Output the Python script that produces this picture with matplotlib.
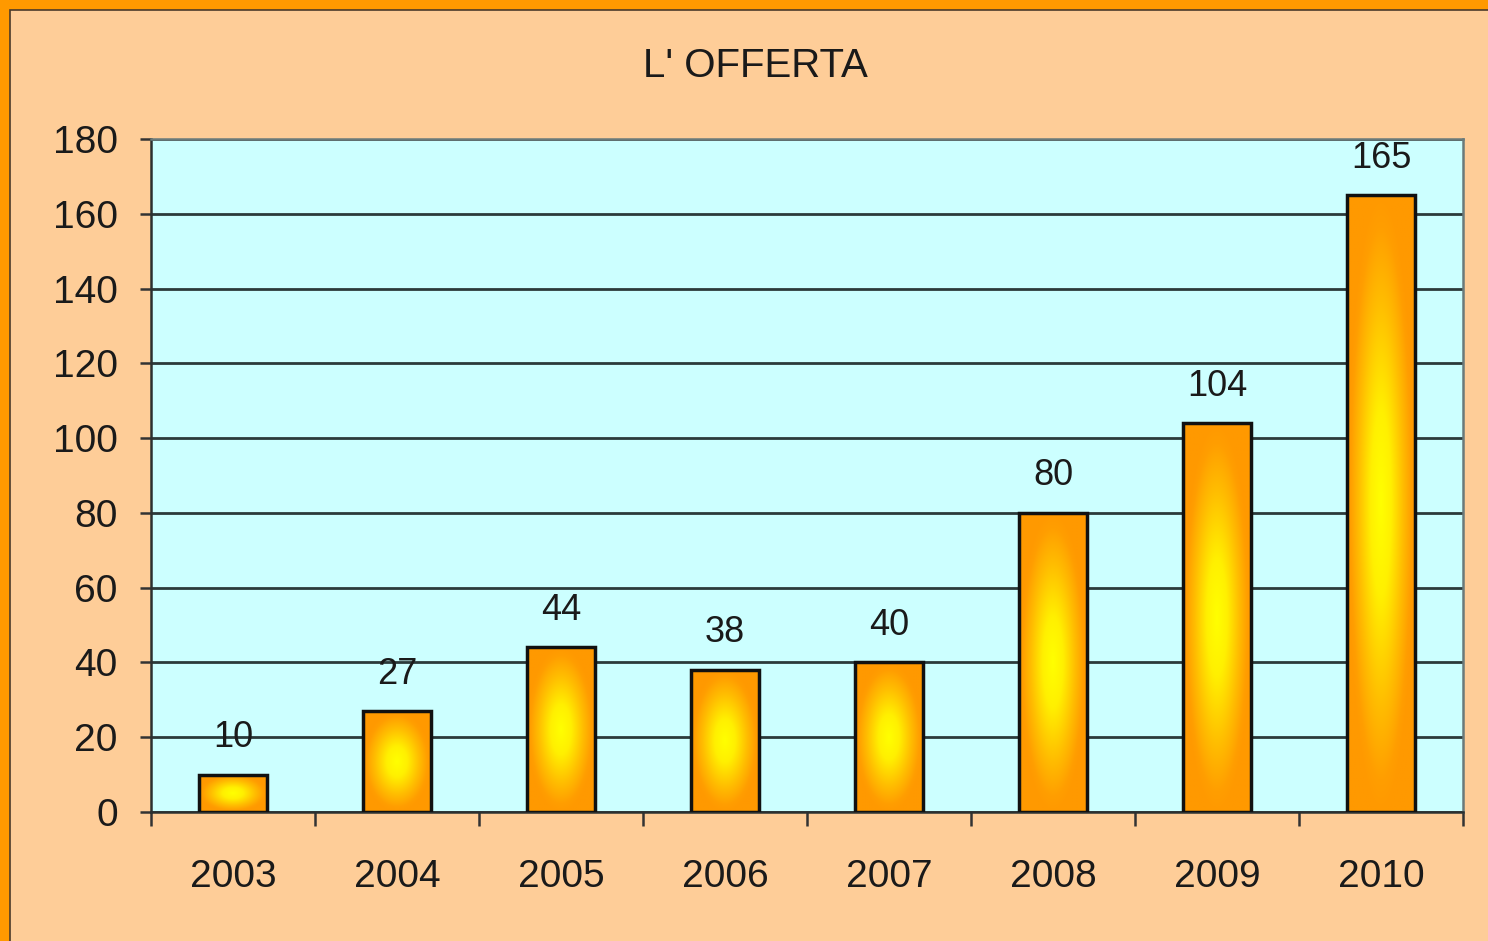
import numpy as np
import matplotlib
matplotlib.use('Agg')
import matplotlib.pyplot as plt
from matplotlib.patches import Rectangle
from matplotlib.colors import LinearSegmentedColormap

plt.rcParams['font.family'] = ['Liberation Sans', 'DejaVu Sans']

# dati
anni = ['2003', '2004', '2005', '2006', '2007', '2008', '2009', '2010']
offerta = [10, 27, 44, 38, 40, 80, 104, 165]
titolo = "L' OFFERTA"

W, H = 1488, 941
fig = plt.figure(figsize=(W / 100, H / 100), dpi=100)
fig.patch.set_facecolor('#FF9900')

# fondo pesca con bordo arancione a sinistra e in alto
fig.patches.append(Rectangle((10 / W, -0.01), 1.02, 1 - 10 / H + 0.01,
                             transform=fig.transFigure, facecolor='#FECD98',
                             edgecolor='#4a3a2a', linewidth=1.2, zorder=-5))

ax = fig.add_axes([151 / W, 1 - 812 / H, (1463 - 151) / W, (812 - 139) / H])
ax.set_facecolor('#CCFFFF')

x = np.arange(len(anni))
larg = 0.41
ax.set_xlim(-0.5, len(anni) - 0.5)
ax.set_ylim(0, 180)

# griglia
ax.set_yticks(np.arange(0, 181, 20))
ax.yaxis.grid(True, color='#2b3a3a', linewidth=2, zorder=1)
ax.set_axisbelow(True)

# gradiente dal centro: giallo -> arancione
cmap = LinearSegmentedColormap.from_list(
    'oro', [(0, '#FFFF00'), (0.3, '#FFF000'), (0.65, '#FFBE00'), (0.9, '#FF9E00'), (1, '#FF9900')])
n = 200
u = np.linspace(-1, 1, n)
U, V = np.meshgrid(u, u)
grad = np.clip(np.sqrt(U ** 2 + V ** 2), 0, 1)

for xi, v in zip(x, offerta):
    ax.imshow(grad, cmap=cmap, vmin=0, vmax=1, extent=(xi - larg / 2, xi + larg / 2, 0, v),
              aspect='auto', interpolation='bilinear', zorder=2)
ax.bar(x, offerta, width=larg, fill=False, edgecolor='#111111', linewidth=2.5, zorder=3)

for xi, v in zip(x, offerta):
    ax.annotate(str(v), (xi, v), xytext=(0, 14), textcoords='offset points',
                ha='center', va='bottom', fontsize=26, color='#1a1a1a', zorder=4)

# assi
for s in ['top', 'right', 'left', 'bottom']:
    ax.spines[s].set_color('#6a7a7a')
    ax.spines[s].set_linewidth(1.8)
ax.spines['bottom'].set_color('#2b3030')
ax.spines['left'].set_color('#2b3030')

ax.set_xticks(np.arange(-0.5, len(anni), 1))
ax.set_xticklabels([])
ax.set_xticks(x, minor=True)
ax.set_xticklabels(anni, minor=True)
ax.tick_params(axis='x', which='major', length=10, width=1.8, color='#333333', direction='out')
ax.tick_params(axis='x', which='minor', length=0, pad=34, labelsize=28, labelcolor='#1a1a1a')
ax.tick_params(axis='y', length=8, width=1.8, color='#333333', pad=16,
               labelsize=28, labelcolor='#1a1a1a')

fig.text(755 / W, 1 - 66 / H, titolo, ha='center', va='center', fontsize=29, color='#1a1a1a')

fig.savefig('out.png', dpi=100, facecolor=fig.get_facecolor())
